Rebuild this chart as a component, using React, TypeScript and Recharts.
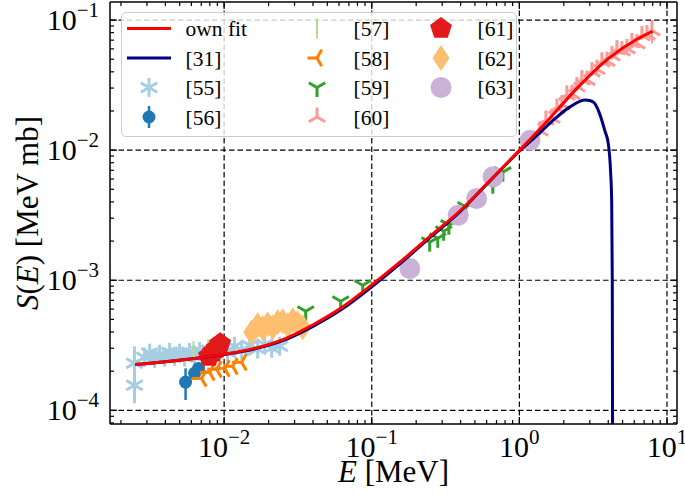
import React from "react";
import {
  ComposedChart,
  XAxis,
  YAxis,
  Line,
  Scatter,
  ErrorBar,
  ReferenceLine,
  Legend,
} from "recharts";

const FONT = "'Liberation Serif', 'DejaVu Serif', serif";

// axis ranges (log)
const xDomain = [0.001686, 11.69];
const yDomain = [7.85e-5, 0.1376];
const xDecades = [0.001, 0.01, 0.1, 1];
const yDecades = [1e-5, 1e-4, 1e-3, 1e-2];
const xGrid = [0.01, 0.1, 1, 10];
const yGrid = [1e-4, 1e-3, 1e-2, 1e-1];

// own fit
const fitE = [0.0025, 0.004, 0.0063, 0.01, 0.0158, 0.025, 0.04, 0.063, 0.1, 0.158, 0.25, 0.4, 0.63, 1.0, 1.58, 2.5, 4.0, 6.3, 8.0];
const fitS = [2.25e-4, 2.36e-4, 2.5e-4, 2.7e-4, 2.98e-4, 3.5e-4, 4.55e-4, 6.2e-4, 9.2e-4, 1.4e-3, 2.19e-3, 3.45e-3, 5.82e-3, 9.95e-3, 0.0172, 0.0305, 0.0505, 0.0715, 0.082];

// [31]
const refE = [0.0025, 0.004, 0.0063, 0.01, 0.0158, 0.025, 0.04, 0.063, 0.1, 0.158, 0.25, 0.4, 0.63, 1.0, 1.3, 1.7, 2.2, 2.8, 3.0, 3.2, 3.5, 3.8, 4.0, 4.15, 4.22, 4.26, 4.28];
const refS = [2.25e-4, 2.36e-4, 2.5e-4, 2.69e-4, 2.95e-4, 3.43e-4, 4.42e-4, 6.0e-4, 8.9e-4, 1.36e-3, 2.14e-3, 3.4e-3, 5.78e-3, 9.8e-3, 0.0128, 0.017, 0.0215, 0.0243, 0.0241, 0.0232, 0.019, 0.014, 0.0113, 0.0068, 0.0041, 0.001, 5e-5];

// [55]
const e55 = [0.00247, 0.00247, 0.00289, 0.00313, 0.00338, 0.00366, 0.00395, 0.00427, 0.00462, 0.00499, 0.0054, 0.00583, 0.00631, 0.00682, 0.00738, 0.00797, 0.00862, 0.00932, 0.01056, 0.01178, 0.01314, 0.0149, 0.01687, 0.01882, 0.021, 0.02378];
const s55 = [2.3e-4, 1.56e-4, 2.56e-4, 2.75e-4, 2.51e-4, 2.7e-4, 2.56e-4, 2.79e-4, 2.6e-4, 2.75e-4, 2.56e-4, 2.79e-4, 2.65e-4, 2.84e-4, 2.65e-4, 2.9e-4, 2.7e-4, 2.95e-4, 2.79e-4, 3.11e-4, 2.9e-4, 3.16e-4, 2.95e-4, 3.22e-4, 3.0e-4, 3.11e-4];
const err55 = [0.8e-4, 0.43e-4, 0, 0, 0, 0, 0, 0, 0, 0, 0, 0, 0, 0, 0, 0, 0, 0, 0, 0, 0, 0, 0, 0, 0, 0];

// [56]
const e56 = [0.00548, 0.00631, 0.00671];
const s56 = [1.65e-4, 1.93e-4, 2.1e-4];
const err56 = [0.45e-4, 0.2e-4, 0.25e-4];

// [57]
const e57 = [0.0062, 0.0078];
const s57 = [2.85e-4, 2.95e-4];

// [58]
const e58 = [0.00703, 0.00797, 0.0089, 0.01008, 0.01142, 0.01314];
const s58 = [1.76e-4, 1.96e-4, 2.07e-4, 2.1e-4, 2.18e-4, 2.34e-4];

// [59]
const e59 = [0.0357, 0.0616, 0.0869, 0.247, 0.28, 0.307, 0.333, 0.434, 0.661, 0.773];
const s59 = [5.78e-4, 6.89e-4, 9.16e-4, 1.96e-3, 2.1e-3, 2.38e-3, 2.65e-3, 3.65e-3, 5.47e-3, 6.77e-3];

// [60]
const e60 = [1.377, 1.513, 1.661, 1.796, 1.941, 2.099, 2.269, 2.453, 2.652, 2.868, 3.1, 3.352, 3.624, 3.918, 4.236, 4.58, 4.951, 5.353, 5.787, 6.256, 6.764, 7.313, 7.906];
const s60 = [0.01409, 0.01706, 0.01765, 0.02099, 0.0224, 0.0266, 0.02694, 0.03085, 0.03481, 0.03453, 0.04012, 0.0419, 0.04784, 0.0483, 0.0533, 0.0593, 0.0582, 0.0604, 0.0672, 0.0659, 0.076, 0.0773, 0.083];
const err60 = [0.001, 0.0012, 0.0012, 0.0015, 0.0016, 0.0019, 0.0019, 0.0022, 0.0024, 0.0024, 0.0028, 0.0029, 0.0033, 0.0034, 0.0037, 0.0041, 0.0041, 0.0042, 0.0047, 0.0046, 0.0053, 0.0054, 0.017];

// [61]
const e61 = [0.0079, 0.0084, 0.0089, 0.0094];
const s61 = [2.6e-4, 2.8e-4, 3.0e-4, 3.25e-4];

// [62]
const e62 = [0.01536, 0.01687, 0.01824, 0.01972, 0.02133, 0.02306, 0.02493, 0.02696, 0.02913, 0.0315, 0.03405];
const s62 = [3.98e-4, 4.51e-4, 4.27e-4, 4.59e-4, 4.35e-4, 4.76e-4, 4.84e-4, 4.51e-4, 4.93e-4, 4.67e-4, 4.35e-4];

// [63]
const e63 = [0.181, 0.385, 0.513, 0.664, 1.18];
const s63 = [1.23e-3, 3.16e-3, 4.25e-3, 6.24e-3, 0.0119];

const toRows = (E: number[], S: number[], err?: number[]) =>
  E.map((e, i) => ({ E: e, S: S[i], err: err ? err[i] : 0 }));

const C = {
  fit: "#ff0000",
  ref: "#000080",
  c55: "#a6cee3",
  c56: "#1f78b4",
  c57: "#b2df8a",
  c58: "#ff7f00",
  c59: "#33a02c",
  c60: "#fb9a99",
  c61: "#e31a1c",
  c62: "#fdbf6f",
  c63: "#cab2d6",
};

const minorTicks = (decades: number[]) =>
  decades.flatMap((d) => [1, 2, 3, 4, 5, 6, 7, 8, 9].map((m) => m * d));
const xTicks = [...minorTicks(xDecades), 10].filter((v) => v >= xDomain[0] && v <= xDomain[1]);
const yTicks = [...minorTicks(yDecades), 0.1].filter((v) => v >= yDomain[0] && v <= yDomain[1]);

const isDecade = (v: number) => Math.abs(Math.log10(v) - Math.round(Math.log10(v))) < 1e-6;
const expText = (v: number) => {
  const e = Math.round(Math.log10(v));
  return e < 0 ? `\u2212${-e}` : `${e}`;
};

function TickLabel({ x, y, v, anchor }: any) {
  return (
    <text x={x} y={y} textAnchor={anchor} fontFamily={FONT} fontSize={30} fill="#000">
      10
      <tspan dy={-13} fontSize={21}>
        {expText(v)}
      </tspan>
    </text>
  );
}

const tickLen = (v: number) => (isDecade(v) ? 7 : 4);

const BottomTick = (p: any) => {
  const v = p.payload.value;
  return (
    <g>
      <line x1={p.x} x2={p.x} y1={p.y} y2={p.y - tickLen(v)} stroke="#000" strokeWidth={1.2} />
      {isDecade(v) && <TickLabel x={p.x} y={p.y + 33} v={v} anchor="middle" />}
    </g>
  );
};
const TopTick = (p: any) => (
  <line x1={p.x} x2={p.x} y1={p.y} y2={p.y + tickLen(p.payload.value)} stroke="#000" strokeWidth={1.2} />
);
const LeftTick = (p: any) => {
  const v = p.payload.value;
  return (
    <g>
      <line x1={p.x} x2={p.x + tickLen(v)} y1={p.y} y2={p.y} stroke="#000" strokeWidth={1.2} />
      {isDecade(v) && <TickLabel x={p.x - 11} y={p.y + 10} v={v} anchor="end" />}
    </g>
  );
};
const RightTick = (p: any) => (
  <line x1={p.x} x2={p.x - tickLen(p.payload.value)} y1={p.y} y2={p.y} stroke="#000" strokeWidth={1.2} />
);

const XTitle = (p: any) => {
  const vb = p.viewBox;
  return (
    <text x={vb.x + vb.width / 2} y={vb.y + 58} textAnchor="middle" fontFamily={FONT} fontSize={31}>
      <tspan fontStyle="italic">E</tspan> [MeV]
    </text>
  );
};
const YTitle = (p: any) => {
  const vb = p.viewBox;
  const cx = 38;
  const cy = vb.y + vb.height / 2;
  return (
    <text x={cx} y={cy} transform={`rotate(-90 ${cx} ${cy})`} textAnchor="middle" fontFamily={FONT} fontSize={31}>
      <tspan fontStyle="italic">S</tspan>(<tspan fontStyle="italic">E</tspan>) [MeV mb]
    </text>
  );
};

function Glyph({ kind, color, cx, cy }: any) {
  const sw = 3;
  const r = 9.5;
  const s = 0.866;
  switch (kind) {
    case "ast":
      return (
        <g stroke={color} strokeWidth={sw}>
          <line x1={cx} y1={cy - r} x2={cx} y2={cy + r} />
          <line x1={cx - r * s} y1={cy - r / 2} x2={cx + r * s} y2={cy + r / 2} />
          <line x1={cx - r * s} y1={cy + r / 2} x2={cx + r * s} y2={cy - r / 2} />
        </g>
      );
    case "dot":
      return <circle cx={cx} cy={cy} r={6.5} fill={color} />;
    case "dotErr":
      return (
        <g>
          <line x1={cx} y1={cy - 11} x2={cx} y2={cy + 11} stroke={color} strokeWidth={2.5} />
          <circle cx={cx} cy={cy} r={6.5} fill={color} />
        </g>
      );
    case "vbar":
      return <line x1={cx} y1={cy - 10} x2={cx} y2={cy + 10} stroke={color} strokeWidth={2} />;
    case "triL":
      return (
        <g stroke={color} strokeWidth={sw}>
          <line x1={cx} y1={cy} x2={cx - r} y2={cy} />
          <line x1={cx} y1={cy} x2={cx + r / 2} y2={cy - r * s} />
          <line x1={cx} y1={cy} x2={cx + r / 2} y2={cy + r * s} />
        </g>
      );
    case "triD":
      return (
        <g stroke={color} strokeWidth={sw}>
          <line x1={cx} y1={cy} x2={cx} y2={cy + r} />
          <line x1={cx} y1={cy} x2={cx - r * s} y2={cy - r / 2} />
          <line x1={cx} y1={cy} x2={cx + r * s} y2={cy - r / 2} />
        </g>
      );
    case "triU":
      return (
        <g stroke={color} strokeWidth={sw}>
          <line x1={cx} y1={cy} x2={cx} y2={cy - r} />
          <line x1={cx} y1={cy} x2={cx - r * s} y2={cy + r / 2} />
          <line x1={cx} y1={cy} x2={cx + r * s} y2={cy + r / 2} />
        </g>
      );
    case "pent": {
      const R = 11.5;
      const pts = [0, 1, 2, 3, 4]
        .map((k) => {
          const a = ((-90 + k * 72) * Math.PI) / 180;
          return `${cx + R * Math.cos(a)},${cy + R * Math.sin(a)}`;
        })
        .join(" ");
      return <polygon points={pts} fill={color} />;
    }
    case "thinD":
      return (
        <polygon
          points={`${cx},${cy - 13} ${cx + 8.5},${cy} ${cx},${cy + 13} ${cx - 8.5},${cy}`}
          fill={color}
        />
      );
    case "circ":
      return <circle cx={cx} cy={cy} r={10.5} fill={color} />;
    default:
      return null;
  }
}

const shape = (kind: string, color: string) => (p: any) =>
  <Glyph kind={kind} color={color} cx={p.cx} cy={p.cy} />;

const legendItems = [
  { label: "own fit", kind: "line", color: C.fit, col: 0, row: 0 },
  { label: "[31]", kind: "line", color: C.ref, col: 0, row: 1 },
  { label: "[55]", kind: "ast", color: C.c55, col: 0, row: 2 },
  { label: "[56]", kind: "dotErr", color: C.c56, col: 0, row: 3 },
  { label: "[57]", kind: "vbar", color: C.c57, col: 1, row: 0 },
  { label: "[58]", kind: "triL", color: C.c58, col: 1, row: 1 },
  { label: "[59]", kind: "triD", color: C.c59, col: 1, row: 2 },
  { label: "[60]", kind: "triU", color: C.c60, col: 1, row: 3 },
  { label: "[61]", kind: "pent", color: C.c61, col: 2, row: 0 },
  { label: "[62]", kind: "thinD", color: C.c62, col: 2, row: 1 },
  { label: "[63]", kind: "circ", color: C.c63, col: 2, row: 2 },
];
const LEG_W = 396;
const LEG_H = 125;
const colMarker = [29, 197, 321];
const colText = [65.5, 233.5, 357.5];
const rowY = [17.5, 47, 76.5, 106];

const renderLegend = () => (
  <div
    style={{
      position: "relative",
      width: LEG_W,
      height: LEG_H,
      boxSizing: "border-box",
      border: "1.5px solid #cccccc",
      borderRadius: 5,
      background: "rgba(255,255,255,0.8)",
    }}
  >
    <svg width={LEG_W} height={LEG_H} style={{ position: "absolute", left: -1.5, top: -1.5 }}>
      {legendItems.map((it) => {
        const y = rowY[it.row];
        const mx = colMarker[it.col];
        return (
          <g key={it.label}>
            {it.kind === "line" ? (
              <line x1={mx - 22} x2={mx + 22} y1={y} y2={y} stroke={it.color} strokeWidth={3} />
            ) : (
              <Glyph kind={it.kind} color={it.color} cx={mx} cy={y} />
            )}
            <text x={colText[it.col]} y={y + 7.5} fontFamily={FONT} fontSize={21.5} fill="#000">
              {it.label}
            </text>
          </g>
        );
      })}
    </svg>
  </div>
);

const axisStroke = { stroke: "#000", strokeWidth: 1.5 };

export default function App() {
  return (
    <div style={{ position: "absolute", left: 0, top: 0, width: 685, height: 502, background: "#fff" }}>
      <ComposedChart width={685} height={502} margin={{ top: 1, right: 7, bottom: 77, left: 109 }}>
        <XAxis
          dataKey="E"
          type="number"
          scale="log"
          domain={xDomain}
          allowDataOverflow
          ticks={xTicks}
          interval={0}
          height={1}
          tickSize={0}
          tickMargin={0}
          tick={BottomTick}
          axisLine={axisStroke}
          label={<XTitle />}
        />
        <XAxis
          xAxisId="top"
          orientation="top"
          dataKey="E"
          type="number"
          scale="log"
          domain={xDomain}
          allowDataOverflow
          ticks={xTicks}
          interval={0}
          height={1}
          tickSize={0}
          tickMargin={0}
          tick={TopTick}
          axisLine={axisStroke}
        />
        <YAxis
          dataKey="S"
          type="number"
          scale="log"
          domain={yDomain}
          allowDataOverflow
          ticks={yTicks}
          interval={0}
          width={1}
          tickSize={0}
          tickMargin={0}
          tick={LeftTick}
          axisLine={axisStroke}
          label={<YTitle />}
        />
        <YAxis
          yAxisId="right"
          orientation="right"
          dataKey="S"
          type="number"
          scale="log"
          domain={yDomain}
          allowDataOverflow
          ticks={yTicks}
          interval={0}
          width={1}
          tickSize={0}
          tickMargin={0}
          tick={RightTick}
          axisLine={axisStroke}
        />
        {xGrid.map((v) => (
          <ReferenceLine key={`gx${v}`} x={v} stroke="#000" strokeWidth={1.2} strokeDasharray="5.5 3" />
        ))}
        {yGrid.map((v) => (
          <ReferenceLine key={`gy${v}`} y={v} stroke="#000" strokeWidth={1.2} strokeDasharray="5.5 3" />
        ))}
        <Scatter data={toRows(e55, s55, err55)} shape={shape("ast", C.c55)} isAnimationActive={false}>
          <ErrorBar dataKey="err" direction="y" width={0} stroke={C.c55} strokeWidth={3} isAnimationActive={false} />
        </Scatter>
        <Scatter data={toRows(e56, s56, err56)} shape={shape("dot", C.c56)} isAnimationActive={false}>
          <ErrorBar dataKey="err" direction="y" width={0} stroke={C.c56} strokeWidth={2.5} isAnimationActive={false} />
        </Scatter>
        <Scatter data={toRows(e57, s57)} shape={shape("vbar", C.c57)} isAnimationActive={false} />
        <Scatter data={toRows(e58, s58)} shape={shape("triL", C.c58)} isAnimationActive={false} />
        <Scatter data={toRows(e59, s59)} shape={shape("triD", C.c59)} isAnimationActive={false} />
        <Scatter data={toRows(e60, s60, err60)} shape={shape("triU", C.c60)} isAnimationActive={false}>
          <ErrorBar dataKey="err" direction="y" width={0} stroke={C.c60} strokeWidth={2} isAnimationActive={false} />
        </Scatter>
        <Scatter data={toRows(e61, s61)} shape={shape("pent", C.c61)} isAnimationActive={false} />
        <Scatter data={toRows(e62, s62)} shape={shape("thinD", C.c62)} isAnimationActive={false} />
        <Scatter data={toRows(e63, s63)} shape={shape("circ", C.c63)} isAnimationActive={false} />
        <Line
          data={toRows(refE, refS)}
          dataKey="S"
          type="monotone"
          stroke={C.ref}
          strokeWidth={3}
          dot={false}
          activeDot={false}
          isAnimationActive={false}
          zIndex={900}
        />
        <Line
          data={toRows(fitE, fitS)}
          dataKey="S"
          type="monotone"
          stroke={C.fit}
          strokeWidth={3}
          dot={false}
          activeDot={false}
          isAnimationActive={false}
          zIndex={901}
        />
        <Legend
          layout="horizontal"
          verticalAlign="middle"
          align="center"
          content={renderLegend}
          wrapperStyle={{ left: 120.5, top: 11.5, width: LEG_W, height: LEG_H }}
        />
      </ComposedChart>
    </div>
  );
}
